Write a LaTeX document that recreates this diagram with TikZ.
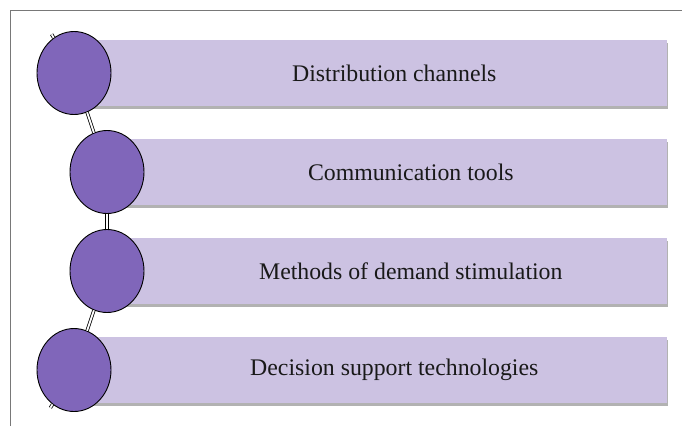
\documentclass[tikz,border=0pt]{standalone}
\usepackage{fontspec}
\setmainfont{Liberation Serif}
\usetikzlibrary{positioning,shapes.geometric,shadows}

\definecolor{ballfill}{RGB}{128,102,186}
\definecolor{barfill}{RGB}{204,194,226}
\definecolor{framegray}{RGB}{120,120,120}

\begin{document}
\begin{tikzpicture}[
    x=1pt, y=1pt,
    ball/.style={ellipse, draw=black, line width=0.9pt, fill=ballfill, inner sep=0pt, minimum width=74pt, minimum height=83pt},
    bar/.style={rectangle, fill=barfill, inner sep=0pt, minimum height=66pt, anchor=north east,
      drop shadow={shadow xshift=1.5pt, shadow yshift=-2.5pt, fill=black, opacity=0.3}},
    caption/.style={font=\fontsize{23.8}{28}\selectfont, text=black!90, xshift=24pt},
    link/.style={draw=black, line width=0.8pt, double=white, double distance=1.8pt}
  ]
    \useasboundingbox (0,0) rectangle (682,-426);
    % open frame, top and left only
    \draw[framegray, line width=1pt] (10.5,-426) -- (10.5,-10.5) -- (682,-10.5);

    % bars behind the balls
    \node[bar, minimum width=593pt] (b1) at (667,-40) {};
    \node[bar, minimum width=560pt] (b2) at (667,-139) {};
    \node[bar, minimum width=560pt] (b3) at (667,-238) {};
    \node[bar, minimum width=593pt] (b4) at (667,-337) {};

    \node[caption] (t1) at (b1.center) {Distribution channels};
    \node[caption] (t2) at (b2.center) {Communication tools};
    \node[caption] (t3) at (b3.center) {Methods of demand stimulation};
    \node[caption] (t4) at (b4.center) {Decision support technologies};

    % the chain of balls
    \node[ball] (c1) at (74,-73) {};
    \node[ball] (c2) at (107,-172) {};
    \node[ball] (c3) at (107,-271) {};
    \node[ball] (c4) at (74,-370) {};

    \draw[link] (c1) -- (c2);
    \draw[link] (c2) -- (c3);
    \draw[link] (c3) -- (c4);
    \draw[link] (c1.120) -- ++(120:4);
    \draw[link] (c4.238) -- ++(238:4);
  \end{tikzpicture}
\end{document}
